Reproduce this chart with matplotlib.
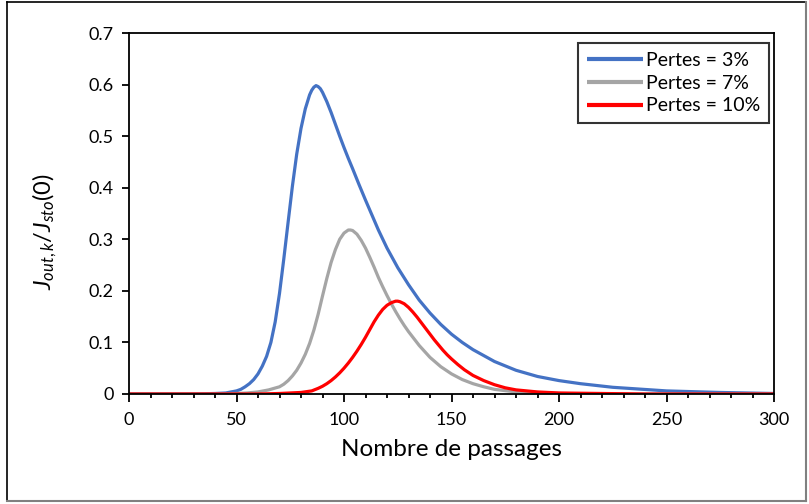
import matplotlib
matplotlib.use("Agg")
from matplotlib import pyplot as plt
from matplotlib.lines import Line2D
from matplotlib.ticker import MultipleLocator

plt.rcParams['font.family'] = ['Lato', 'DejaVu Sans']
plt.rcParams['mathtext.fontset'] = 'custom'
plt.rcParams['mathtext.rm'] = 'Lato'
plt.rcParams['mathtext.it'] = 'Lato:italic'

# values
x_3 = [0, 30, 40, 45, 50, 52, 54, 56, 58, 60, 62, 64, 66, 68, 70, 72, 74, 76, 78, 80, 82,
       84, 85, 86, 87, 88, 89, 90, 92, 94, 96, 98, 100, 102, 104, 107, 110, 113, 116, 120,
       125, 130, 135, 140, 145, 150, 155, 160, 170, 180, 190, 200, 210, 225, 250, 275, 300]
y_3 = [0, 0, 0.001, 0.002, 0.006, 0.009, 0.014, 0.02, 0.028, 0.039, 0.054, 0.073, 0.1, 0.14,
       0.195, 0.262, 0.333, 0.403, 0.465, 0.515, 0.553, 0.58, 0.589, 0.595, 0.598, 0.596,
       0.592, 0.585, 0.567, 0.546, 0.523, 0.5, 0.478, 0.457, 0.437, 0.406, 0.376, 0.347,
       0.318, 0.283, 0.245, 0.212, 0.182, 0.157, 0.135, 0.116, 0.1, 0.086, 0.063, 0.046,
       0.034, 0.026, 0.02, 0.013, 0.006, 0.003, 0.001]

x_7 = [0, 45, 50, 55, 60, 65, 70, 72, 74, 76, 78, 80, 82, 84, 86, 88, 90, 92, 94, 96, 98,
       100, 102, 103, 104, 106, 108, 110, 112, 114, 116, 118, 120, 122, 124, 126, 128, 130,
       135, 140, 145, 150, 155, 160, 165, 170, 180, 190, 200, 220, 300]
y_7 = [0, 0, 0.001, 0.002, 0.004, 0.008, 0.014, 0.019, 0.026, 0.035, 0.046, 0.06, 0.077,
       0.098, 0.124, 0.155, 0.19, 0.224, 0.255, 0.28, 0.3, 0.312, 0.318, 0.318, 0.317, 0.31,
       0.298, 0.283, 0.265, 0.246, 0.226, 0.208, 0.191, 0.175, 0.16, 0.146, 0.133, 0.121,
       0.094, 0.071, 0.053, 0.039, 0.028, 0.02, 0.014, 0.009, 0.004, 0.002, 0.001, 0, 0]

x_10 = [0, 60, 70, 80, 85, 88, 90, 92, 94, 96, 98, 100, 102, 104, 106, 108, 110, 112, 114,
        116, 118, 120, 122, 124, 125, 126, 128, 130, 132, 134, 136, 138, 140, 142, 144, 146,
        148, 150, 153, 156, 160, 165, 170, 175, 180, 190, 200, 220, 240, 300]
y_10 = [0, 0, 0.001, 0.003, 0.006, 0.011, 0.015, 0.02, 0.026, 0.033, 0.041, 0.05, 0.06,
        0.071, 0.083, 0.096, 0.11, 0.125, 0.14, 0.153, 0.164, 0.172, 0.177, 0.18, 0.18, 0.179,
        0.175, 0.168, 0.159, 0.149, 0.138, 0.127, 0.116, 0.105, 0.095, 0.085, 0.076, 0.068,
        0.057, 0.047, 0.036, 0.026, 0.018, 0.012, 0.008, 0.004, 0.002, 0.001, 0, 0]

series = [
    (x_3, y_3, 'Pertes = 3%', '#4472C4'),
    (x_7, y_7, 'Pertes = 7%', '#A5A5A5'),
    (x_10, y_10, 'Pertes = 10%', '#FF0000'),
]

fig = plt.figure(figsize=(8.09, 5.04), dpi=100)
ax = fig.add_axes([129 / 809, 110 / 504, 645 / 809, 361 / 504])

for xs, ys, label, color in series:
    ax.plot(xs, ys, color=color, linewidth=2.3, label=label,
            solid_joinstyle='round', solid_capstyle='butt')

ax.set_xlim(0, 300)
ax.set_ylim(0, 0.7)
ax.xaxis.set_major_locator(MultipleLocator(50))
ax.xaxis.set_minor_locator(MultipleLocator(10))
ax.set_yticks([v / 10 for v in range(8)])
ax.set_yticklabels(['0'] + ['%.1f' % (v / 10) for v in range(1, 8)])

for s in ax.spines.values():
    s.set_linewidth(1.3)
    s.set_color('black')
ax.tick_params(axis='both', which='major', direction='out', length=5, width=1.3,
               labelsize=13, colors='black', pad=6)
ax.tick_params(axis='x', which='major', length=6, pad=7)
ax.tick_params(axis='x', which='minor', direction='out', length=3, width=1.3)

ax.set_xlabel('Nombre de passages', fontsize=17.5, labelpad=8)
ax.set_ylabel(r'$\mathit{J_{out,k}/J_{sto}(0)}$', fontsize=17)
ax.yaxis.set_label_coords(-0.108, 0.449)

leg = ax.legend(loc='upper right', bbox_to_anchor=(1 - 5 / 645, 1 - 10 / 361),
                borderaxespad=0, fontsize=14, frameon=True, fancybox=False,
                edgecolor='black', handlelength=2.9, handletextpad=0.15,
                borderpad=0.45, labelspacing=0.3)
leg.get_frame().set_linewidth(1.5)
for h in leg.get_lines():
    h.set_linewidth(3)

# outer frame of the picture
fig.add_artist(Line2D([7 / 809, 7 / 809], [0.005, 1 - 2 / 504], color='black', lw=1.2))
fig.add_artist(Line2D([7 / 809, 806 / 809], [1 - 2 / 504, 1 - 2 / 504], color='black', lw=1.2))
fig.add_artist(Line2D([806 / 809, 806 / 809], [3 / 504, 1 - 2 / 504], color='#808080', lw=1.5))
fig.add_artist(Line2D([7 / 809, 806 / 809], [3 / 504, 3 / 504], color='#808080', lw=1.5))

fig.savefig('out.png', dpi=100)
